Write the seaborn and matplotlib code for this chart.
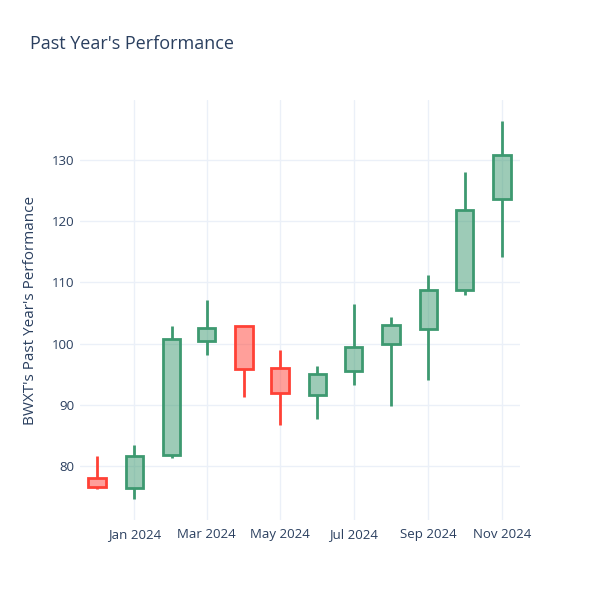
import matplotlib
matplotlib.use("Agg")
import matplotlib.pyplot as plt
import matplotlib.dates as mdates
import seaborn as sns
import pandas as pd
import numpy as np

dates = ["2023-12-01", "2024-01-01", "2024-02-01", "2024-03-01", "2024-04-01", "2024-05-01",
         "2024-06-01", "2024-07-01", "2024-08-01", "2024-09-01", "2024-10-01", "2024-11-01"]
open_ = [78.1, 76.5, 81.8, 100.5, 102.8, 96.1, 91.7, 95.5, 99.9, 102.4, 108.8, 123.6]
high = [81.7, 83.4, 102.9, 107.1, 102.8, 98.9, 96.4, 106.4, 104.3, 111.1, 127.9, 136.2]
low = [76.3, 74.7, 81.4, 98.1, 91.3, 86.7, 87.7, 93.2, 89.9, 94.1, 107.9, 114.1]
close = [76.7, 81.6, 100.8, 102.6, 95.8, 92.0, 95.0, 99.5, 103.0, 108.7, 121.7, 130.8]
tick_dates = ["2024-01-01", "2024-03-01", "2024-05-01", "2024-07-01", "2024-09-01", "2024-11-01"]

df = pd.DataFrame({"date": pd.to_datetime(dates), "open": open_, "high": high,
                   "low": low, "close": close})

sns.set_theme(style="white")
plt.rcParams['font.family'] = ['Open Sans', 'DejaVu Sans']

text_col = "#2a3f5f"
grid_col = "#EBF0F8"
inc_line, inc_fill = "#3D9970", (61/255, 153/255, 112/255, 0.5)
dec_line, dec_fill = "#FF4136", (255/255, 65/255, 54/255, 0.5)

fig = plt.figure(figsize=(6, 6), dpi=100)
ax = fig.add_axes([80/600, 80/600, 440/600, 420/600])

x = mdates.date2num(df["date"])
width = 14.5
for xi, o, h, l, c in zip(x, df["open"], df["high"], df["low"], df["close"]):
    up = c >= o
    lc = inc_line if up else dec_line
    fc = inc_fill if up else dec_fill
    lo_b, hi_b = min(o, c), max(o, c)
    ax.vlines(xi, hi_b, h, color=lc, lw=2, zorder=2)
    ax.vlines(xi, l, lo_b, color=lc, lw=2, zorder=2)
    ax.bar(xi, hi_b - lo_b, bottom=lo_b, width=width, facecolor=fc,
           edgecolor=lc, linewidth=2, zorder=3)

ax.set_xlim(mdates.date2num(pd.Timestamp("2023-11-17")), mdates.date2num(pd.Timestamp("2024-11-16")))
ax.set_ylim(71.25, 139.7)
ax.set_yticks([80, 90, 100, 110, 120, 130])
ax.set_xticks(mdates.date2num(pd.to_datetime(tick_dates)))
ax.xaxis.set_major_formatter(mdates.DateFormatter("%b %Y"))

ax.grid(True, color=grid_col, lw=1, zorder=0)
ax.set_axisbelow(True)
for s in ax.spines.values():
    s.set_visible(False)
ax.tick_params(axis="both", length=0, labelsize=9.5, colors=text_col, pad=4)
ax.tick_params(axis="x", pad=6)

ax.set_ylabel("BWXT's Past Year's Performance", fontsize=11, color=text_col, labelpad=10)
fig.text(30/600, 1 - 44/600, "Past Year's Performance", fontsize=13, color=text_col,
         ha="left", va="center")

fig.savefig("out.png", dpi=100, facecolor="white")
